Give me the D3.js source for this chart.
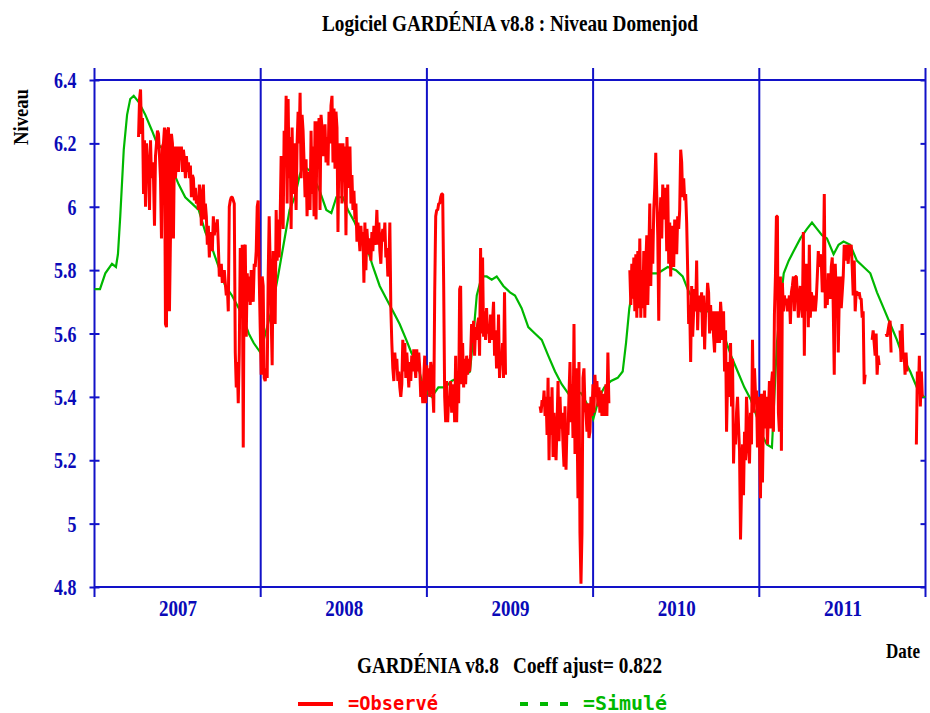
<!DOCTYPE html>
<html>
<head>
<meta charset="utf-8">
<script src="https://cdn.jsdelivr.net/npm/d3@7"></script>
<style>
  body { margin: 0; background: #fff; }
  svg { display: block; }
</style>
</head>
<body>
<svg id="chart"></svg>
<script>
const yearTicks = [2007, 2008, 2009, 2010, 2011];
const yearBounds = [2007, 2008, 2009, 2010, 2011, 2012];
const levelTicks = [4.8, 5, 5.2, 5.4, 5.6, 5.8, 6, 6.2, 6.4];

// observed level, one reading every OBS_STEP years (about 2.2 days), split where the record has holes
const OBS_STEP = 0.006;
const obsStarts = [2007.265, 2009.681, 2010.221, 2011.679, 2011.763, 2011.847, 2011.945];

const obsRun1 = [
  6.22, 6.34, 6.37, 6.23, 6.28, 6.04, 6.21, 6.00, 6.20, 6.15,
  6.13, 5.99, 6.21, 6.09, 6.14, 6.09, 5.94, 6.16, 6.20, 6.24,
  6.23, 6.16, 6.09, 5.90, 6.19, 6.20, 6.25, 5.63, 5.62, 6.24,
  6.25, 5.67, 5.90, 6.23, 6.20, 5.90, 6.19, 6.09, 6.15, 6.19,
  6.11, 6.19, 6.16, 6.19, 6.11, 6.18, 6.15, 6.09, 6.16, 6.11,
  6.14, 6.09, 6.13, 6.03, 6.10, 6.09, 6.02, 6.06, 6.01, 6.03,
  5.99, 6.07, 6.04, 5.94, 6.03, 6.07, 5.96, 6.01, 5.97, 5.88,
  5.94, 5.84, 5.92, 5.90, 5.86, 5.97, 5.91, 5.95, 5.92, 5.96,
  5.88, 5.78, 5.79, 5.82, 5.76, 5.78, 5.80, 5.76, 5.72, 5.75,
  5.67, 6.00, 6.02, 6.03, 6.03, 6.02, 6.01, 5.54, 5.43, 5.51,
  5.38, 5.54, 5.87, 5.67, 5.88, 5.24, 5.87, 5.88, 5.59, 5.79,
  5.70, 5.78, 5.69, 5.80, 5.75, 5.70, 5.82, 5.81, 5.86, 6.00,
  // 2008
  6.02, 5.78, 5.62, 5.47, 5.78, 5.75, 5.46, 5.45, 5.49, 5.46,
  5.78, 5.97, 5.82, 5.65, 5.50, 5.86, 5.67, 5.63, 5.99, 5.83,
  5.96, 5.84, 5.96, 6.16, 6.09, 5.93, 6.24, 6.13, 6.35, 6.01,
  6.34, 6.09, 6.22, 5.93, 6.25, 6.04, 6.20, 6.09, 5.99, 6.20,
  6.30, 6.20, 6.36, 6.09, 6.29, 6.24, 6.14, 6.03, 6.15, 5.97,
  6.11, 6.02, 5.99, 6.24, 6.04, 6.19, 5.97, 6.27, 5.96, 6.27,
  6.20, 6.28, 5.99, 6.29, 6.25, 6.16, 6.22, 6.26, 6.14, 6.22,
  6.13, 6.30, 6.20, 6.32, 6.35, 6.14, 6.31, 6.12, 6.30, 6.25,
  5.92, 6.20, 6.12, 6.20, 6.01, 6.20, 6.09, 6.19, 5.91, 6.22,
  6.09, 6.06, 6.19, 6.01, 6.10, 5.99, 6.05, 5.96, 6.01, 5.89,
  5.95, 5.91, 5.86, 5.94, 5.88, 5.92, 5.76, 5.95, 5.80, 5.93,
  5.88, 5.85, 5.90, 5.83, 5.92, 5.86, 5.94, 5.88, 5.91, 5.99,
  5.88, 5.95, 5.86, 5.82, 5.91, 5.93, 5.89, 5.95, 5.84, 5.87,
  5.78, 5.80, 5.95, 5.68, 5.57, 5.49, 5.45, 5.54, 5.49, 5.52,
  5.45, 5.48, 5.43, 5.40, 5.44, 5.58, 5.48, 5.57, 5.46, 5.54,
  5.49, 5.43, 5.51, 5.45, 5.53, 5.48, 5.55, 5.50, 5.46, 5.55,
  5.48, 5.54, 5.49, 5.40, 5.45, 5.38, 5.46,
  // 2009, first half
  5.53, 5.38, 5.50, 5.42, 5.49, 5.40, 5.51, 5.48, 5.42, 5.35,
  5.73, 5.97, 5.99, 5.99, 6.01, 6.01, 6.03, 6.04, 6.04, 5.75,
  5.40, 5.32, 5.45, 5.32, 5.40, 5.37, 5.45, 5.35, 5.40, 5.44,
  5.32, 5.53, 5.32, 5.48, 5.38, 5.74, 5.75, 5.44, 5.57, 5.43,
  5.52, 5.44, 5.53, 5.47, 5.52, 5.48, 5.53, 5.63, 5.57, 5.64,
  5.53, 5.62, 5.58, 5.63, 5.65, 5.53, 5.87, 5.60, 5.84, 5.59,
  5.67, 5.58, 5.68, 5.60, 5.63, 5.57, 5.66, 5.58, 5.64, 5.70,
  5.53, 5.61, 5.49, 5.52, 5.66, 5.46, 5.54, 5.50, 5.57, 5.46,
  5.73, 5.47
];

const obsRun2 = [
  5.37, 5.35, 5.39, 5.37, 5.42, 5.34, 5.40, 5.28, 5.46, 5.20,
  5.40, 5.28, 5.43, 5.21, 5.35, 5.27, 5.20, 5.31, 5.45, 5.26,
  5.40, 5.30, 5.35, 5.25, 5.18, 5.37, 5.17, 5.31, 5.28, 5.41,
  5.51, 5.32, 5.44, 5.27, 5.63, 5.22, 5.49, 5.35, 5.08, 5.51,
  4.97, 4.81, 4.97, 5.46, 5.49, 5.37, 5.35, 5.29, 5.38, 5.27,
  5.29, 5.40, 5.34, 5.44, 5.35, 5.47, 5.40, 5.45, 5.37, 5.43,
  5.35, 5.42, 5.34, 5.41, 5.37, 5.34, 5.44, 5.34, 5.54, 5.38
];

const obsRun3 = [
  5.80, 5.69, 5.82, 5.71, 5.84, 5.67, 5.85, 5.65, 5.86, 5.68,
  5.90, 5.65, 5.80, 5.68, 5.86, 5.65, 5.82, 5.91, 5.69, 5.84,
  6.01, 5.75, 5.93, 5.82, 5.99, 6.06, 6.17, 6.04, 5.91, 5.64,
  5.94, 6.03, 5.90, 6.07, 5.96, 6.06, 6.03, 5.86, 6.07, 5.82,
  5.95, 5.78, 5.94, 5.88, 5.81, 5.96, 5.92, 5.85, 5.97, 5.93,
  5.99, 6.18, 6.14, 6.03, 6.09, 6.02, 6.04, 5.95, 5.80, 5.63,
  5.69, 5.51, 5.75, 5.59, 5.67, 5.74, 5.67, 5.83, 5.61, 5.72,
  5.67, 5.68, 5.73, 5.59, 5.72, 5.55, 5.67, 5.68, 5.76, 5.73,
  5.60, 5.69, 5.61, 5.67, 5.59, 5.54, 5.67, 5.57, 5.61, 5.67,
  5.57, 5.70, 5.65, 5.58, 5.67, 5.48, 5.61, 5.29, 5.45, 5.51,
  5.40, 5.57, 5.37, 5.52, 5.19, 5.31, 5.25, 5.35, 5.40, 5.31,
  5.23, 4.95, 5.11, 5.25, 5.09, 5.29, 5.20, 5.40, 5.33, 5.23,
  5.19, 5.35, 5.25, 5.58, 5.35, 5.49, 5.41,
  // 2011
  5.42, 5.24, 5.40, 5.27, 5.08, 5.41, 5.13, 5.35, 5.42, 5.30,
  5.40, 5.25, 5.35, 5.45, 5.30, 5.44, 5.48, 5.29, 5.66, 5.78,
  5.97, 5.97, 5.35, 5.29, 5.78, 5.23, 5.76, 5.67, 5.72, 5.69,
  5.71, 5.67, 5.69, 5.72, 5.63, 5.73, 5.75, 5.78, 5.67, 5.78,
  5.78, 5.72, 5.65, 5.72, 5.75, 5.69, 5.65, 5.92, 5.53, 5.82,
  5.67, 5.82, 5.62, 5.88, 5.65, 5.73, 5.71, 5.67, 5.72, 5.67,
  5.71, 5.78, 5.86, 5.81, 5.85, 5.83, 5.73, 5.78, 6.04, 5.68,
  5.75, 5.69, 5.79, 5.73, 5.71, 5.81, 5.84, 5.68, 5.47, 5.82,
  5.72, 5.78, 5.54, 5.71, 5.78, 5.68, 5.73, 5.78, 5.88, 5.83,
  5.88, 5.86, 5.82, 5.88, 5.85, 5.88, 5.81, 5.72, 5.83, 5.67,
  5.73, 5.73, 5.72, 5.73, 5.71, 5.71, 5.65, 5.67, 5.44, 5.47
];

const obsRun4 = [5.58, 5.61, 5.57, 5.53, 5.60, 5.47, 5.53, 5.50];
const obsRun5 = [5.60, 5.59, 5.61, 5.63, 5.64, 5.54];
const obsRun6 = [5.61, 5.51, 5.63, 5.52, 5.54, 5.47, 5.54, 5.48];
const obsRun7 = [5.25, 5.48, 5.41, 5.53, 5.37, 5.48, 5.40];

// simulated level (GARDENIA model)
const simDates = [
  2007.000, 2007.033, 2007.065, 2007.105, 2007.129, 2007.141, 2007.155, 2007.176, 2007.196, 2007.215,
  2007.236, 2007.266, 2007.306, 2007.346, 2007.376, 2007.416, 2007.466, 2007.507, 2007.546, 2007.587,
  2007.627, 2007.667, 2007.707, 2007.747, 2007.787, 2007.827, 2007.868, 2007.907, 2007.928, 2007.958,
  2007.998, 2008.064, 2008.104, 2008.144, 2008.174, 2008.205, 2008.235, 2008.255, 2008.304, 2008.355,
  2008.395, 2008.425, 2008.455, 2008.495, 2008.525, 2008.566, 2008.605, 2008.646, 2008.676, 2008.716,
  2008.756, 2008.796, 2008.836, 2008.876, 2008.906, 2008.946, 2008.978, 2009.006, 2009.029, 2009.069,
  2009.109, 2009.149, 2009.189, 2009.229, 2009.259, 2009.279, 2009.300, 2009.330, 2009.360, 2009.390,
  2009.420, 2009.460, 2009.500, 2009.530, 2009.570, 2009.610, 2009.650, 2009.691, 2009.730, 2009.771,
  2009.811, 2009.851, 2009.891, 2009.931, 2009.971, 2010.001, 2010.022, 2010.037, 2010.067, 2010.108,
  2010.148, 2010.178, 2010.198, 2010.218, 2010.238, 2010.288, 2010.348, 2010.389, 2010.449, 2010.499,
  2010.539, 2010.569, 2010.599, 2010.649, 2010.700, 2010.750, 2010.790, 2010.830, 2010.870, 2010.910,
  2010.950, 2010.990, 2011.006, 2011.046, 2011.076, 2011.087, 2011.106, 2011.126, 2011.147, 2011.177,
  2011.207, 2011.247, 2011.287, 2011.317, 2011.347, 2011.377, 2011.407, 2011.447, 2011.477, 2011.507,
  2011.547, 2011.587, 2011.628, 2011.668, 2011.708, 2011.748, 2011.788, 2011.828, 2011.868, 2011.908,
  2011.948, 2011.988, 2012.000
];
const simValues = [
  5.74, 5.74, 5.79, 5.82, 5.81, 5.85, 5.97, 6.18, 6.29, 6.34,
  6.35, 6.33, 6.29, 6.24, 6.20, 6.18, 6.12, 6.07, 6.03, 6.01,
  5.99, 5.92, 5.87, 5.81, 5.75, 5.72, 5.68, 5.63, 5.60, 5.57,
  5.54, 5.67, 5.78, 5.90, 5.99, 6.03, 6.10, 6.13, 6.11, 6.05,
  5.99, 5.98, 6.03, 6.03, 5.99, 5.95, 5.90, 5.86, 5.81, 5.75,
  5.71, 5.67, 5.63, 5.58, 5.54, 5.50, 5.43, 5.41, 5.40, 5.43,
  5.43, 5.45, 5.46, 5.47, 5.48, 5.59, 5.72, 5.78, 5.78, 5.77,
  5.78, 5.75, 5.73, 5.72, 5.68, 5.62, 5.60, 5.58, 5.53, 5.48,
  5.44, 5.41, 5.42, 5.41, 5.37, 5.33, 5.37, 5.40, 5.43, 5.45,
  5.46, 5.48, 5.57, 5.68, 5.74, 5.78, 5.79, 5.79, 5.81, 5.80,
  5.78, 5.74, 5.71, 5.67, 5.67, 5.64, 5.59, 5.53, 5.48, 5.43,
  5.39, 5.33, 5.29, 5.25, 5.24, 5.36, 5.57, 5.69, 5.79, 5.83,
  5.86, 5.90, 5.93, 5.95, 5.93, 5.91, 5.90, 5.85, 5.88, 5.89,
  5.88, 5.83, 5.81, 5.79, 5.73, 5.68, 5.63, 5.58, 5.52, 5.48,
  5.43, 5.40, 5.40
];

const obsRuns = [obsRun1, obsRun2, obsRun3, obsRun4, obsRun5, obsRun6, obsRun7];

const observed = [];
obsRuns.forEach((run, k) => {
  run.forEach((v, i) => observed.push({ t: obsStarts[k] + i * OBS_STEP, v: v }));
  observed.push({ t: null, v: null });
});
const simulated = simDates.map((t, i) => ({ t: t, v: simValues[i] }));

const W = 930, H = 713;
const plot = { left: 94.5, right: 925.5, top: 80, bottom: 587 };
const blue = '#1212c8';
const labelBlue = '#0a0ab8';
const serif = "'Liberation Serif', 'Times New Roman', serif";
const mono = "'DejaVu Sans Mono', 'Liberation Mono', monospace";

const svg = d3.select('#chart')
  .attr('width', W)
  .attr('height', H)
  .style('background', '#fff');

const x = d3.scaleLinear().domain([2007, 2012]).range([plot.left, plot.right]);
const y = d3.scaleLinear().domain([4.8, 6.4]).range([plot.bottom, plot.top]);

// year separators, poking out above and below the frame
svg.append('g')
  .selectAll('line')
  .data(yearBounds)
  .enter()
  .append('line')
  .attr('x1', d => x(d)).attr('x2', d => x(d))
  .attr('y1', plot.top - 12).attr('y2', plot.bottom + 10)
  .attr('stroke', blue)
  .attr('stroke-width', 2);

// top and bottom frame
[plot.top, plot.bottom].forEach(yy => {
  svg.append('line')
    .attr('x1', plot.left).attr('x2', plot.right)
    .attr('y1', yy).attr('y2', yy)
    .attr('stroke', blue)
    .attr('stroke-width', 2);
});

const yAxis = svg.append('g')
  .attr('transform', `translate(${plot.left},0)`)
  .call(d3.axisLeft(y).tickValues(levelTicks).tickFormat(d => String(d)).tickSize(5).tickSizeOuter(0));
yAxis.select('.domain').remove();
yAxis.selectAll('line').attr('x1', -5).attr('x2', 5).attr('stroke', blue).attr('stroke-width', 2);
yAxis.selectAll('text')
  .attr('transform', 'scale(0.78,1)')
  .attr('x', -18 / 0.78)
  .attr('dy', '0.33em')
  .attr('fill', labelBlue)
  .style('font-family', serif)
  .style('font-weight', 'bold')
  .style('font-size', '23px');

const yAxisRight = svg.append('g')
  .attr('transform', `translate(${plot.right},0)`)
  .call(d3.axisLeft(y).tickValues(levelTicks).tickFormat('').tickSize(5).tickSizeOuter(0));
yAxisRight.select('.domain').remove();
yAxisRight.selectAll('line').attr('stroke', blue).attr('stroke-width', 2);

const xAxis = svg.append('g')
  .attr('transform', `translate(0,${plot.bottom})`)
  .call(d3.axisBottom(x).tickValues(yearTicks.map(d => d + 0.5)).tickFormat(d => Math.floor(d)).tickSize(0));
xAxis.select('.domain').remove();
xAxis.selectAll('text')
  .attr('y', 29)
  .attr('dy', 0)
  .attr('fill', labelBlue)
  .attr('textLength', 38)
  .attr('lengthAdjust', 'spacingAndGlyphs')
  .style('font-family', serif)
  .style('font-weight', 'bold')
  .style('font-size', '23px');

// series
svg.append('path')
  .datum(simulated)
  .attr('fill', 'none')
  .attr('stroke', '#00b800')
  .attr('stroke-width', 2.2)
  .attr('d', d3.line().x(d => x(d.t)).y(d => y(d.v)));

svg.append('path')
  .datum(observed)
  .attr('fill', 'none')
  .attr('stroke', '#ff0000')
  .attr('stroke-width', 3)
  .attr('stroke-linejoin', 'bevel')
  .attr('d', d3.line().defined(d => d.v !== null).x(d => x(d.t)).y(d => y(d.v)));

// texts
function label(txt, px, py, len, opts) {
  const o = Object.assign({ size: 23, color: '#000', anchor: 'start', family: serif }, opts || {});
  return svg.append('text')
    .attr('x', px).attr('y', py)
    .attr('text-anchor', o.anchor)
    .attr('fill', o.color)
    .attr('textLength', len)
    .attr('lengthAdjust', 'spacingAndGlyphs')
    .style('font-family', o.family)
    .style('font-weight', 'bold')
    .style('font-size', o.size + 'px')
    .text(txt);
}

label('Logiciel GARDÉNIA v8.8 : Niveau Domenjod', 322, 31, 376);
label('Niveau', 0, 0, 56, { anchor: 'middle', size: 22 })
  .attr('transform', 'translate(28,117) rotate(-90)');
label('Date', 920, 658, 34, { anchor: 'end', size: 21 });
label('GARDÉNIA v8.8   Coeff ajust= 0.822', 357, 673, 305).style('white-space', 'pre');

// legend
svg.append('line')
  .attr('x1', 298).attr('x2', 333).attr('y1', 704).attr('y2', 704)
  .attr('stroke', '#ff0000').attr('stroke-width', 4);
label('=Observé', 348, 710, 90, { family: mono, size: 19, color: '#ff0000' });
svg.append('line')
  .attr('x1', 520).attr('x2', 568).attr('y1', 704).attr('y2', 704)
  .attr('stroke', '#00b800').attr('stroke-width', 4)
  .attr('stroke-dasharray', '8,12');
label('=Simulé', 583, 710, 84, { family: mono, size: 19, color: '#00b800' });
</script>
</body>
</html>
